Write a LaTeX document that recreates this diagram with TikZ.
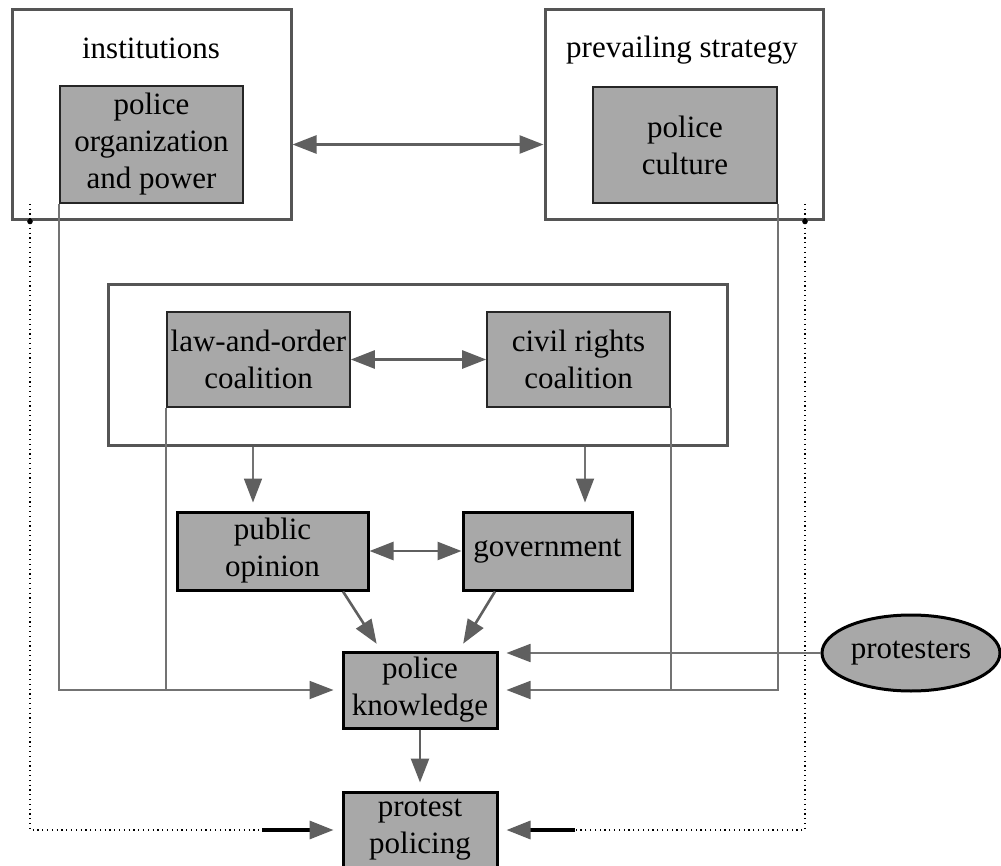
\documentclass[tikz,border=0pt]{standalone}
\usepackage{fontspec}
\setmainfont{Liberation Serif}
\usetikzlibrary{arrows.meta,shapes.geometric}
\definecolor{boxfill}{RGB}{168,168,168}
\definecolor{arrowgray}{RGB}{95,95,95}
\definecolor{framegray}{RGB}{85,85,85}
\definecolor{linegray}{RGB}{115,115,115}
\begin{document}
\begin{tikzpicture}[x=0.5pt,y=-0.5pt,
  every node/.style={font=\fontsize{15.5}{18.5}\selectfont, align=center, inner sep=0pt},
  frame/.style={draw=framegray, line width=1.5pt},
  thinbox/.style={draw=black!85, line width=0.8pt, fill=boxfill},
  thickbox/.style={draw=black, line width=1.5pt, fill=boxfill},
  arr/.style={draw=arrowgray, line width=1.3pt, -{Triangle[length=12pt,width=9pt]}, shorten >=4pt},
  thinarr/.style={draw=linegray, line width=0.9pt, -{Triangle[length=12pt,width=9pt,color=arrowgray]}, shorten >=4pt},
  dbl/.style={draw=arrowgray, line width=1.3pt, {Triangle[length=12pt,width=9pt]}-{Triangle[length=12pt,width=9pt]}},
  feed/.style={draw=linegray, line width=0.8pt},
  fb/.style={draw=black, line width=0.8pt, dash pattern=on 0.6pt off 1.8pt},
  fbsolid/.style={draw=black, line width=1.6pt, -{Triangle[length=12pt,width=9pt,color=arrowgray]}, shorten >=4pt},
]
\clip (0,0) rectangle (1001,866);
\fill[white] (0,0) rectangle (1001,866);

% framed groups
\node[frame, minimum width=139.5pt, minimum height=105pt] (instbox) at (151.5,115) {};
\node (instlabel) at (151,48) {institutions};
\node[thinbox, minimum width=91.5pt, minimum height=58.5pt] (org) at (151.5,144.5) {police\\organization\\and power};

\node[frame, minimum width=139pt, minimum height=105pt] (stratbox) at (684,115) {};
\node (stratlabel) at (682,50) {prevailing strategy};
\node[thinbox, minimum width=92pt, minimum height=58pt] (culture) at (685,145) {police\\culture};

\node[frame, minimum width=309.5pt, minimum height=80pt] (coalbox) at (417.5,365) {};
\node[thinbox, minimum width=91.5pt, minimum height=47.5pt] (law) at (258.5,359.5) {law-and-order\\coalition};
\node[thinbox, minimum width=91.5pt, minimum height=47.5pt] (civil) at (578.5,359.5) {civil rights\\coalition};

% actors
\node[thickbox, minimum width=95.5pt, minimum height=39pt] (opinion) at (272.5,551) {public\\opinion};
\node[thickbox, minimum width=84.5pt, minimum height=39pt] (gov) at (547.5,551) {government};
\node[thickbox, minimum width=77pt, minimum height=38pt] (know) at (420,690) {police\\knowledge};
\node[thickbox, minimum width=77pt, minimum height=38pt] (policing) at (420,830) {protest\\policing};
\node[ellipse, thickbox, minimum width=89pt, minimum height=38pt] (prot) at (911,653) {protesters};

% helper positions
\coordinate (ta) at (253,0);
\coordinate (tb) at (585,0);
\coordinate (oa) at (343,0);
\coordinate (ka) at (381,0);
\coordinate (ga) at (495,0);
\coordinate (kb) at (459,0);
\coordinate (dl) at (30,0);
\coordinate (dr) at (805,0);
\coordinate (ls) at (262,830);
\coordinate (rs) at (575,830);

% mutual influences
\draw[dbl] (instbox.east |- org.center) -- (stratbox.west |- org.center);
\draw[dbl] (law) -- (civil);
\draw[dbl] (opinion) -- (gov);

% coalitions to actors
\draw[thinarr] (coalbox.south -| ta) -- (opinion.north -| ta);
\draw[thinarr] (coalbox.south -| tb) -- (gov.north -| tb);
\draw[arr] (opinion.south -| oa) -- (know.north -| ka);
\draw[arr] (gov.south -| ga) -- (know.north -| kb);
\draw[arr] (know) -- (policing);

% feeds into police knowledge
\draw[thinarr] (org.south west) |- (know.west);
\draw[feed] (law.south west) -- (law.south west |- know.west);
\draw[thinarr] (culture.south east) |- (know.east);
\draw[feed] (civil.south east) -- (civil.south east |- know.east);
\draw[thinarr] (prot.west) -- (know.east |- prot.west);

% feedback loops
\fill (instbox.south -| dl) circle (1.4pt);
\fill (stratbox.south -| dr) circle (1.4pt);
\draw[fb] (dl |- org.south) -- (dl |- policing.west) -- (ls);
\draw[fbsolid] (ls) -- (policing.west);
\draw[fb] (dr |- culture.south) -- (dr |- policing.west) -- (rs);
\draw[fbsolid] (rs) -- (policing.east);
\end{tikzpicture}
\end{document}
